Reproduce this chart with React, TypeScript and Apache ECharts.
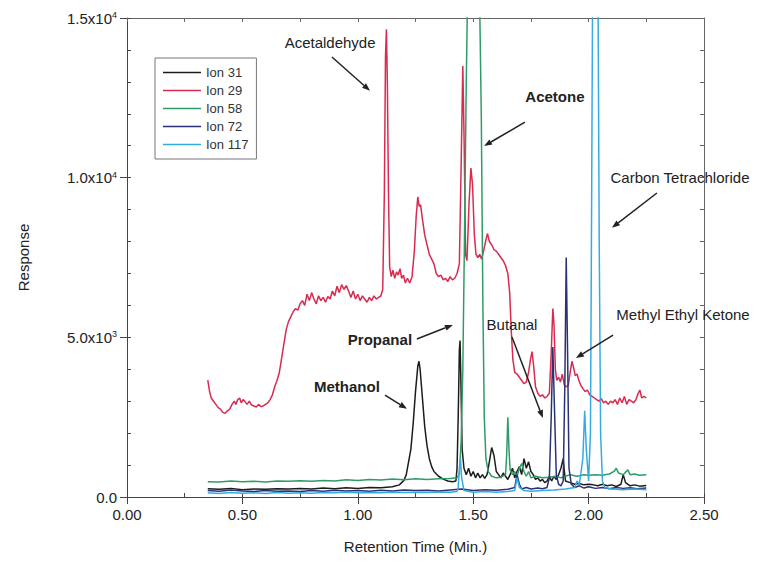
import React, { useEffect, useRef } from 'react';
import * as echarts from 'echarts';

const seriesNames = ['Ion 31', 'Ion 29', 'Ion 58', 'Ion 72', 'Ion 117'];
const seriesColors = ['#1c1c1c', '#d92b4f', '#2f9c68', '#2a3276', '#34ace0'];

const xTicks = [0, 0.5, 1.0, 1.5, 2.0, 2.5];
const yTicks = [0, 5000, 10000, 15000];

// Ion 31 (black)
const ion31: number[][] = [
  [0.35, 260], [0.40, 240], [0.45, 270], [0.50, 230], [0.55, 250], [0.60, 240], [0.65, 260], [0.70, 250],
  [0.75, 270], [0.80, 250], [0.85, 280], [0.90, 260], [0.95, 290], [1.00, 270], [1.05, 300], [1.10, 290],
  [1.15, 320], [1.18, 380], [1.20, 520], [1.21, 700], [1.22, 1100], [1.23, 1500], [1.24, 2300], [1.25, 3300],
  [1.26, 4100], [1.265, 4250], [1.27, 4000], [1.28, 3100], [1.29, 2200], [1.30, 1600], [1.31, 1200], [1.32, 950],
  [1.33, 800], [1.35, 650], [1.37, 560], [1.39, 500], [1.41, 480], [1.425, 500], [1.43, 900], [1.435, 2500],
  [1.44, 4600], [1.443, 4900], [1.447, 3500], [1.452, 1500], [1.46, 900], [1.47, 700], [1.48, 900], [1.49, 650],
  [1.50, 800], [1.51, 600], [1.52, 750], [1.53, 600], [1.54, 700], [1.55, 580], [1.56, 700], [1.57, 1100],
  [1.58, 1550], [1.59, 1300], [1.60, 800], [1.61, 700], [1.62, 600], [1.63, 750], [1.64, 650], [1.65, 550],
  [1.66, 700], [1.67, 900], [1.68, 600], [1.69, 800], [1.70, 950], [1.71, 700], [1.72, 1200], [1.73, 900],
  [1.74, 1100], [1.75, 800], [1.76, 700], [1.77, 550], [1.78, 600], [1.79, 500], [1.80, 550], [1.81, 450],
  [1.82, 500], [1.83, 650], [1.84, 500], [1.85, 650], [1.86, 550], [1.87, 700], [1.88, 900], [1.89, 1200],
  [1.895, 800], [1.90, 500], [1.92, 450], [1.94, 400], [1.96, 420], [1.98, 380], [2.00, 400], [2.02, 380],
  [2.04, 350], [2.06, 400], [2.08, 350], [2.10, 380], [2.12, 330], [2.14, 400], [2.15, 700], [2.16, 450],
  [2.18, 350], [2.20, 380], [2.22, 340], [2.25, 360],
];

// Ion 29 (red)
const ion29: number[][] = [
  [0.350, 3660], [0.358, 3300], [0.365, 3100], [0.375, 3000], [0.385, 2900], [0.395, 2800], [0.405, 2750],
  [0.415, 2650], [0.425, 2620], [0.435, 2700], [0.445, 2750], [0.455, 2900], [0.465, 3000], [0.472, 2900],
  [0.480, 3050], [0.488, 3100], [0.495, 2950], [0.503, 3050], [0.512, 2980], [0.520, 2900], [0.530, 3000],
  [0.540, 2880], [0.550, 2850], [0.560, 2820], [0.570, 2900], [0.580, 2830], [0.590, 2850], [0.600, 2900],
  [0.610, 2950], [0.620, 3050], [0.630, 3200], [0.640, 3450], [0.650, 3650], [0.660, 3900], [0.670, 4350],
  [0.680, 4800], [0.690, 5250], [0.700, 5500], [0.710, 5650], [0.720, 5800], [0.730, 5900], [0.740, 5850],
  [0.750, 6050], [0.760, 6150], [0.770, 6000], [0.780, 6350], [0.790, 6150], [0.800, 6400], [0.810, 6200],
  [0.820, 6050], [0.830, 6300], [0.840, 6150], [0.850, 6250], [0.860, 6100], [0.870, 6280], [0.880, 6200],
  [0.890, 6450], [0.900, 6300], [0.910, 6600], [0.920, 6400], [0.930, 6650], [0.940, 6500], [0.950, 6620],
  [0.960, 6450], [0.970, 6250], [0.980, 6450], [0.990, 6200], [1.000, 6350], [1.010, 6150], [1.020, 6300],
  [1.030, 6200], [1.040, 6100], [1.050, 6250], [1.060, 6150], [1.070, 6300], [1.080, 6200], [1.090, 6250],
  [1.100, 6300], [1.108, 6500], [1.115, 9500], [1.120, 13800], [1.124, 14650], [1.128, 13000], [1.133, 9500],
  [1.138, 7200], [1.145, 6900], [1.152, 7100], [1.160, 6850], [1.168, 7050], [1.175, 6950], [1.183, 7150],
  [1.190, 6850], [1.198, 6950], [1.206, 6700], [1.215, 6850], [1.225, 6700], [1.235, 6900], [1.245, 7700],
  [1.253, 8800], [1.260, 9400], [1.266, 9100], [1.272, 9150], [1.280, 8700], [1.290, 8200], [1.300, 7900],
  [1.310, 7600], [1.320, 7450], [1.330, 7300], [1.340, 7000], [1.350, 6900], [1.360, 6950], [1.370, 6800],
  [1.380, 6850], [1.390, 6750], [1.400, 6900], [1.410, 6800], [1.420, 6850], [1.430, 7000], [1.440, 7300],
  [1.448, 10500], [1.455, 13500], [1.461, 11000], [1.467, 7600], [1.473, 7400], [1.482, 9200], [1.490, 10300],
  [1.497, 9800], [1.505, 8200], [1.512, 7600], [1.520, 7500], [1.528, 7600], [1.536, 7450], [1.545, 7700],
  [1.555, 8050], [1.562, 8250], [1.570, 8000], [1.580, 7900], [1.590, 7750], [1.600, 7700], [1.610, 7600],
  [1.620, 7500], [1.630, 7400], [1.640, 7250], [1.650, 7000], [1.658, 6400], [1.665, 5200], [1.672, 4300],
  [1.680, 3900], [1.690, 3850], [1.700, 3750], [1.710, 3650], [1.720, 3550], [1.730, 3600], [1.740, 3900],
  [1.748, 4300], [1.755, 4550], [1.762, 4100], [1.770, 3450], [1.780, 3250], [1.790, 3150], [1.800, 3200],
  [1.810, 3100], [1.820, 3150], [1.830, 3250], [1.838, 4500], [1.845, 5900], [1.850, 5400], [1.856, 4000],
  [1.862, 3650], [1.870, 3750], [1.878, 3600], [1.886, 3850], [1.895, 3500], [1.905, 3450], [1.912, 3500],
  [1.920, 3900], [1.928, 4250], [1.935, 4050], [1.942, 3800], [1.950, 3850], [1.958, 3650], [1.966, 3500],
  [1.975, 3400], [1.985, 3300], [1.995, 3350], [2.005, 3200], [2.015, 3150], [2.025, 3100], [2.035, 3050],
  [2.045, 3000], [2.055, 3080], [2.065, 2950], [2.075, 3000], [2.085, 2900], [2.095, 3000], [2.105, 2950],
  [2.115, 3050], [2.125, 2900], [2.135, 3100], [2.145, 2950], [2.155, 3150], [2.165, 2900], [2.175, 3050],
  [2.185, 3000], [2.195, 2950], [2.205, 3050], [2.215, 3250], [2.222, 3350], [2.230, 3100], [2.240, 3150],
  [2.250, 3100],
];

// Ion 58 (green)
const ion58: number[][] = [
  [0.35, 480], [0.40, 470], [0.45, 500], [0.50, 480], [0.55, 490], [0.60, 470], [0.65, 500], [0.70, 490],
  [0.75, 510], [0.80, 490], [0.85, 520], [0.90, 500], [0.95, 540], [1.00, 520], [1.05, 550], [1.10, 530],
  [1.15, 560], [1.20, 540], [1.25, 570], [1.30, 550], [1.35, 570], [1.40, 580], [1.43, 600], [1.44, 700],
  [1.448, 1800], [1.455, 4000], [1.462, 8000], [1.47, 13000], [1.478, 17000], [1.50, 21000], [1.525, 17000],
  [1.535, 12000], [1.542, 6000], [1.548, 2500], [1.555, 1200], [1.565, 800], [1.58, 650], [1.60, 600],
  [1.62, 620], [1.64, 700], [1.645, 1300], [1.65, 2500], [1.655, 1500], [1.66, 850], [1.67, 700], [1.68, 800],
  [1.69, 650], [1.70, 900], [1.71, 1050], [1.72, 800], [1.73, 650], [1.74, 800], [1.75, 600], [1.77, 650],
  [1.80, 600], [1.83, 620], [1.86, 650], [1.88, 600], [1.90, 650], [1.92, 700], [1.95, 650], [1.98, 700],
  [2.00, 680], [2.03, 700], [2.06, 680], [2.09, 720], [2.11, 800], [2.12, 900], [2.13, 750], [2.15, 700],
  [2.17, 850], [2.18, 700], [2.20, 720], [2.22, 680], [2.25, 700],
];

// Ion 72 (navy)
const ion72: number[][] = [
  [0.35, 200], [0.40, 180], [0.45, 220], [0.50, 190], [0.55, 170], [0.60, 200], [0.65, 180], [0.70, 190],
  [0.75, 170], [0.80, 200], [0.85, 180], [0.90, 210], [0.95, 190], [1.00, 200], [1.05, 180], [1.10, 210],
  [1.15, 190], [1.20, 220], [1.25, 200], [1.30, 210], [1.35, 190], [1.40, 220], [1.45, 250], [1.50, 200],
  [1.55, 230], [1.60, 210], [1.65, 240], [1.68, 300], [1.69, 700], [1.70, 400], [1.71, 250], [1.73, 300],
  [1.75, 250], [1.78, 280], [1.80, 260], [1.82, 300], [1.83, 600], [1.838, 2500], [1.845, 4700], [1.852, 2800],
  [1.86, 700], [1.87, 400], [1.88, 350], [1.89, 500], [1.897, 3500], [1.903, 7500], [1.909, 4500], [1.915, 900],
  [1.925, 400], [1.94, 300], [1.96, 350], [1.98, 280], [2.00, 320], [2.03, 270], [2.06, 300], [2.09, 260],
  [2.12, 300], [2.15, 270], [2.18, 290], [2.21, 260], [2.25, 280],
];

// Ion 117 (light blue)
const ion117: number[][] = [
  [0.35, 130], [0.40, 110], [0.45, 140], [0.50, 120], [0.55, 130], [0.60, 110], [0.65, 140], [0.70, 120],
  [0.75, 130], [0.80, 120], [0.85, 140], [0.90, 130], [0.95, 150], [1.00, 130], [1.05, 140], [1.10, 130],
  [1.15, 150], [1.20, 140], [1.25, 150], [1.30, 140], [1.35, 160], [1.40, 150], [1.43, 170], [1.435, 300],
  [1.44, 900], [1.445, 1200], [1.45, 600], [1.46, 200], [1.50, 150], [1.55, 170], [1.60, 150], [1.65, 170],
  [1.68, 200], [1.69, 600], [1.70, 300], [1.72, 200], [1.75, 180], [1.80, 200], [1.85, 220], [1.90, 250],
  [1.94, 300], [1.95, 500], [1.96, 400], [1.975, 1200], [1.983, 2700], [1.99, 1500], [2.00, 500], [2.008, 2000],
  [2.013, 9000], [2.018, 17000], [2.03, 20000], [2.04, 17000], [2.046, 8000], [2.052, 2000], [2.06, 500],
  [2.07, 300], [2.10, 250], [2.15, 230], [2.20, 250], [2.25, 230],
];

const seriesData = [ion31, ion29, ion58, ion72, ion117];

// Annotations (data coordinates): label centre, arrow start, arrow end
const annLabels = ['Acetaldehyde', 'Acetone', 'Carbon Tetrachloride', 'Methyl Ethyl Ketone', 'Butanal', 'Propanal', 'Methanol'];
const annBold = [false, true, false, false, false, true, true];
const annAt: number[][] = [[0.88, 14220], [1.854, 12530], [2.396, 10020], [2.409, 5700], [1.668, 5390], [1.096, 4920], [0.953, 3450]];
const annFrom: number[][] = [[0.888, 13780], [1.724, 11740], [2.296, 9520], [2.106, 5070], [1.668, 5010], [1.256, 4950], [1.118, 3190]];
const annTo: number[][] = [[1.053, 12720], [1.547, 10990], [2.101, 8430], [1.945, 4350], [1.802, 2470], [1.412, 5390], [1.213, 2760]];

const FONT = "'Liberation Sans', Arial, Helvetica, sans-serif";

export default function App() {
  const ref = useRef<HTMLDivElement>(null);
  useEffect(() => {
    const chart = echarts.init(ref.current as HTMLDivElement, null, { renderer: 'svg' });
    const axisColor = '#444';
    const frameColor = '#666';
    const yFmt = (v: number) => {
      if (v === 0) return '0.0';
      const e = Math.floor(Math.log10(v) + 1e-9);
      const m = v / Math.pow(10, e);
      return `{b|${m.toFixed(1)}x10}{s|${e}}`;
    };
    const option: any = {
      animation: false,
      backgroundColor: '#ffffff',
      textStyle: { fontFamily: FONT },
      grid: { left: 127, right: 57, top: 18, bottom: 73, containLabel: false },
      legend: {
        data: seriesNames,
        orient: 'vertical',
        left: 155,
        top: 58,
        icon: 'rect',
        itemWidth: 38,
        itemHeight: 1.5,
        itemGap: 5,
        padding: [8, 8, 8, 8],
        borderColor: '#777',
        borderWidth: 1,
        textStyle: { fontSize: 13, color: '#333', fontFamily: FONT },
      },
      xAxis: [
        {
          type: 'value', min: xTicks[0], max: xTicks[xTicks.length - 1], interval: 0.5, position: 'bottom',
          axisLine: { show: true, onZero: false, lineStyle: { color: axisColor, width: 1 } },
          axisTick: { show: true, length: 7, lineStyle: { color: axisColor } },
          axisLabel: { formatter: (v: number) => v.toFixed(2), fontSize: 15, color: '#222', margin: 10, fontFamily: FONT },
          splitLine: { show: false },
          name: 'Retention Time (Min.)', nameLocation: 'middle', nameGap: 42,
          nameTextStyle: { fontSize: 15, color: '#222', fontFamily: FONT },
        },
        {
          type: 'value', min: 0, max: 2.5, interval: 0.25, position: 'bottom',
          axisLine: { show: false }, axisTick: { show: true, inside: true, length: 4, lineStyle: { color: axisColor } },
          axisLabel: { show: false }, splitLine: { show: false },
        },
        {
          type: 'value', min: 0, max: 2.5, interval: 0.25, position: 'top',
          axisLine: { show: true, onZero: false, lineStyle: { color: frameColor } },
          axisTick: { show: true, inside: true, length: 4, lineStyle: { color: frameColor } },
          axisLabel: { show: false }, splitLine: { show: false },
        },
      ],
      yAxis: [
        {
          type: 'value', min: yTicks[0], max: yTicks[yTicks.length - 1], interval: 5000, position: 'left',
          axisLine: { show: true, onZero: false, lineStyle: { color: axisColor, width: 1 } },
          axisTick: { show: true, length: 7, lineStyle: { color: axisColor } },
          axisLabel: {
            formatter: yFmt, fontSize: 15, color: '#222', margin: 10, fontFamily: FONT,
            rich: {
              b: { fontSize: 15, color: '#222', fontFamily: FONT },
              s: { fontSize: 9, color: '#222', fontFamily: FONT, verticalAlign: 'top' },
            },
          },
          splitLine: { show: false },
          name: 'Response', nameLocation: 'middle', nameGap: 96, nameRotate: 90,
          nameTextStyle: { fontSize: 15, color: '#222', fontFamily: FONT },
        },
        {
          type: 'value', min: 0, max: 15000, interval: 1000, position: 'left',
          axisLine: { show: false }, axisTick: { show: true, inside: true, length: 4, lineStyle: { color: axisColor } },
          axisLabel: { show: false }, splitLine: { show: false },
        },
        {
          type: 'value', min: 0, max: 15000, interval: 1000, position: 'right',
          axisLine: { show: true, onZero: false, lineStyle: { color: frameColor } },
          axisTick: { show: true, inside: true, length: 4, lineStyle: { color: frameColor } },
          axisLabel: { show: false }, splitLine: { show: false },
        },
      ],
      series: seriesNames.map((name, i) => ({
        name,
        type: 'line',
        xAxisIndex: 0,
        yAxisIndex: 0,
        data: seriesData[i],
        symbol: 'none',
        showSymbol: false,
        clip: true,
        lineStyle: { color: seriesColors[i], width: 1.5 },
        itemStyle: { color: seriesColors[i] },
        z: 2 + i,
      })),
    };
    chart.setOption(option);

    const graphics: any[] = [];
    annLabels.forEach((label, i) => {
      const p = chart.convertToPixel({ gridIndex: 0 }, annAt[i]) as number[];
      const f = chart.convertToPixel({ gridIndex: 0 }, annFrom[i]) as number[];
      const t = chart.convertToPixel({ gridIndex: 0 }, annTo[i]) as number[];
      graphics.push({
        type: 'text', x: p[0], y: p[1], z: 100,
        style: {
          text: label, fontSize: 15, fontWeight: annBold[i] ? 'bold' : 'normal', fontFamily: FONT,
          fill: '#222', textAlign: 'center', textVerticalAlign: 'middle', align: 'center', verticalAlign: 'middle',
        },
      });
      const dx = t[0] - f[0];
      const dy = t[1] - f[1];
      const len = Math.hypot(dx, dy) || 1;
      const ux = dx / len;
      const uy = dy / len;
      const hl = 8;
      const hw = 3;
      const bx = t[0] - ux * hl;
      const by = t[1] - uy * hl;
      graphics.push({
        type: 'line', z: 100,
        shape: { x1: f[0], y1: f[1], x2: bx, y2: by },
        style: { stroke: '#222', lineWidth: 1.5 },
      });
      graphics.push({
        type: 'polygon', z: 100,
        shape: { points: [[t[0], t[1]], [bx - uy * hw, by + ux * hw], [bx + uy * hw, by - ux * hw]] },
        style: { fill: '#222' },
      });
    });
    chart.setOption({ graphic: graphics });

    return () => chart.dispose();
  }, []);
  return <div ref={ref} style={{ position: 'fixed', left: 0, top: 0, width: 761, height: 570 }} />;
}
